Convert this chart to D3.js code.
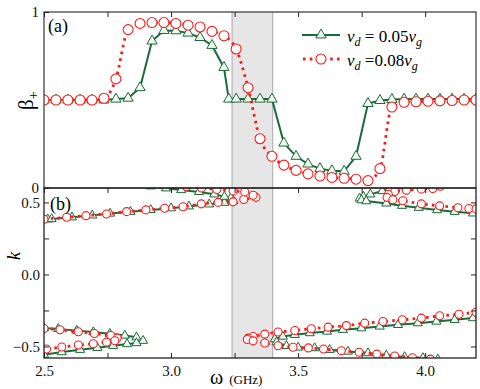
<!DOCTYPE html>
<html>
<head>
<meta charset="utf-8">
<script src="https://cdn.jsdelivr.net/npm/d3@7"></script>
<style>
body { margin: 0; background: #fff; }
</style>
</head>
<body>
<div id="chart"></div>
<script>
// top panel: beta_+ vs omega
var omegaRed = [2.500, 2.547, 2.594, 2.642, 2.689, 2.736, 2.783, 2.831, 2.878, 2.925, 2.972, 3.019, 3.067,
    3.114, 3.161, 3.208, 3.256, 3.303, 3.350, 3.397, 3.444, 3.492, 3.539, 3.586, 3.633, 3.681, 3.728,
    3.775, 3.822, 3.869, 3.917, 3.964, 4.011, 4.058, 4.106, 4.153, 4.200];
var betaRed = [0.50, 0.50, 0.50, 0.50, 0.50, 0.51, 0.62, 0.90, 0.935, 0.94, 0.94, 0.935, 0.925,
    0.915, 0.89, 0.865, 0.79, 0.57, 0.28, 0.18, 0.13, 0.10, 0.08, 0.068, 0.06, 0.055, 0.05,
    0.042, 0.11, 0.46, 0.487, 0.49, 0.493, 0.495, 0.497, 0.50, 0.50];

var omegaGreen = [2.500, 2.547, 2.594, 2.642, 2.689, 2.736, 2.783, 2.831, 2.878, 2.925, 2.972, 3.019, 3.067,
    3.114, 3.161, 3.208, 3.227, 3.256, 3.303, 3.350, 3.397, 3.444, 3.492, 3.539, 3.586, 3.633, 3.681,
    3.728, 3.775, 3.822, 3.869, 3.917, 3.964, 4.011, 4.058, 4.106, 4.153, 4.200];
var betaGreen = [0.50, 0.50, 0.50, 0.50, 0.50, 0.50, 0.505, 0.51, 0.57, 0.835, 0.895, 0.893, 0.88,
    0.855, 0.81, 0.685, 0.505, 0.505, 0.505, 0.505, 0.505, 0.255, 0.18, 0.136, 0.11, 0.098, 0.095,
    0.18, 0.48, 0.497, 0.503, 0.505, 0.505, 0.505, 0.505, 0.505, 0.505, 0.505];

// bottom panel: k vs omega, one array of [omega, k] per branch
var greenUpperLeft = [[2.515, 0.382], [2.53, 0.385], [2.61, 0.397], [2.69, 0.410], [2.76, 0.423], [2.84, 0.435],
    [2.92, 0.448], [3.00, 0.460], [3.07, 0.473], [3.15, 0.487], [3.21, 0.498], [3.245, 0.510],
    [3.235, 0.530], [3.21, 0.540], [3.17, 0.556], [3.11, 0.573], [3.04, 0.586], [2.98, 0.598], [2.92, 0.612]];
var redUpperLeft = [[2.50, 0.383], [2.589, 0.397], [2.665, 0.408], [2.746, 0.420], [2.825, 0.436], [2.901, 0.448],
    [2.975, 0.459], [3.047, 0.470], [3.119, 0.490], [3.185, 0.500], [3.244, 0.504], [3.286, 0.520],
    [3.334, 0.535], [3.323, 0.550], [3.29, 0.573], [3.244, 0.580], [3.18, 0.590], [3.12, 0.600], [3.06, 0.610]];
var greenUpperRight = [[3.90, 0.612], [3.86, 0.597], [3.831, 0.579], [3.784, 0.556], [3.757, 0.540], [3.742, 0.528],
    [3.749, 0.516], [3.768, 0.509], [3.847, 0.493], [3.909, 0.477], [3.975, 0.463], [4.047, 0.447],
    [4.116, 0.435], [4.188, 0.424]];
var redUpperRight = [[4.06, 0.612], [4.03, 0.597], [3.985, 0.592], [3.926, 0.585], [3.88, 0.575], [3.855, 0.555],
    [3.85, 0.535], [3.873, 0.518], [3.912, 0.511], [3.985, 0.490], [4.057, 0.476], [4.129, 0.463],
    [4.172, 0.458], [4.20, 0.455]];
var greenLowerLeft = [[2.50, -0.372], [2.556, -0.378], [2.629, -0.390], [2.694, -0.400], [2.759, -0.412],
    [2.818, -0.424], [2.864, -0.436], [2.89, -0.460], [2.864, -0.476], [2.827, -0.483], [2.772, -0.495],
    [2.71, -0.509], [2.642, -0.523], [2.57, -0.539], [2.50, -0.557]];
var redLowerLeft = [[2.50, -0.375], [2.563, -0.384], [2.635, -0.398], [2.698, -0.410], [2.763, -0.424],
    [2.788, -0.442], [2.779, -0.460], [2.746, -0.470], [2.694, -0.481], [2.635, -0.490], [2.57, -0.504],
    [2.51, -0.518]];
var greenLowerRight = [[4.188, -0.303], [4.116, -0.315], [4.044, -0.327], [3.971, -0.338], [3.893, -0.350],
    [3.821, -0.361], [3.749, -0.373], [3.676, -0.384], [3.614, -0.396], [3.546, -0.407], [3.487, -0.419],
    [3.44, -0.431], [3.408, -0.449], [3.415, -0.470], [3.454, -0.496], [3.50, -0.507], [3.565, -0.511],
    [3.624, -0.523], [3.696, -0.535], [3.775, -0.546], [3.847, -0.562], [3.919, -0.573], [3.991, -0.580],
    [4.05, -0.590]];
var redLowerRight = [[4.20, -0.262], [4.133, -0.276], [4.057, -0.287], [3.985, -0.303], [3.91, -0.315],
    [3.834, -0.327], [3.762, -0.338], [3.69, -0.355], [3.618, -0.366], [3.552, -0.377], [3.487, -0.389],
    [3.421, -0.400], [3.369, -0.414], [3.323, -0.431], [3.303, -0.442], [3.30, -0.452], [3.323, -0.461],
    [3.369, -0.476], [3.421, -0.495], [3.48, -0.505], [3.54, -0.510], [3.60, -0.518], [3.67, -0.530],
    [3.74, -0.540], [3.81, -0.553], [3.88, -0.566], [3.95, -0.578], [4.02, -0.588]];

var gapBand = [3.24, 3.40];
var xTicks = [2.5, 3.0, 3.5, 4.0];
var legendLabels = ["0.05", "0.08"];

var w = 480, h = 389;
var green = "#1b6b3a", red = "#ff1a1a";
var serif = "Liberation Serif";

var svg = d3.select("#chart").append("svg").attr("width", w).attr("height", h)
    .attr("font-family", serif);

var x = d3.scaleLinear().domain([2.5, 4.2]).range([44, 476]);
var yTop = d3.scaleLinear().domain([0, 1]).range([188, 12]);
var yBot = d3.scaleLinear().domain([-0.58, 0.6]).range([358, 188]);

var defs = svg.append("defs");
defs.append("clipPath").attr("id", "clipTop").append("rect")
    .attr("x", 44).attr("y", 12).attr("width", 432).attr("height", 176);
defs.append("clipPath").attr("id", "clipBot").append("rect")
    .attr("x", 44).attr("y", 188).attr("width", 432).attr("height", 170);

// shaded band across both panels
svg.append("rect")
    .attr("x", x(gapBand[0])).attr("y", 12)
    .attr("width", x(gapBand[1]) - x(gapBand[0])).attr("height", 346)
    .style("fill", "#e6e6e6");
gapBand.forEach(function(v) {
    svg.append("line").attr("x1", x(v)).attr("x2", x(v)).attr("y1", 12).attr("y2", 358)
        .style("stroke", "#a8a8a8").style("stroke-width", 1);
});

var tri = d3.symbol().type(d3.symbolTriangle);

function drawGreen(g, pts, yS, size) {
    g.append("path").datum(pts)
        .attr("d", d3.line().x(function(d) { return x(d[0]); }).y(function(d) { return yS(d[1]); }))
        .style("fill", "none").style("stroke", green).style("stroke-width", 2);
    g.selectAll(null).data(pts).enter().append("path")
        .attr("d", tri.size(size))
        .attr("transform", function(d) { return "translate(" + x(d[0]) + "," + yS(d[1]) + ")"; })
        .style("fill", "#f2f8f2").style("stroke", green).style("stroke-width", 1);
}

function drawRed(g, pts, yS, r, curve) {
    g.append("path").datum(pts)
        .attr("d", d3.line().curve(curve).x(function(d) { return x(d[0]); }).y(function(d) { return yS(d[1]); }))
        .style("fill", "none").style("stroke", red).style("stroke-width", 2.8)
        .style("stroke-dasharray", "2.6,4.2");
    g.selectAll(null).data(pts).enter().append("circle")
        .attr("cx", function(d) { return x(d[0]); })
        .attr("cy", function(d) { return yS(d[1]); })
        .attr("r", r)
        .style("fill", "#fff").style("stroke", red).style("stroke-width", 1.1);
}

// top panel
var topG = svg.append("g").attr("clip-path", "url(#clipTop)");
drawGreen(topG, omegaGreen.map(function(o, i) { return [o, betaGreen[i]]; }), yTop, 46);
drawRed(topG, omegaRed.map(function(o, i) { return [o, betaRed[i]]; }), yTop, 5, d3.curveMonotoneX);

// bottom panel
var botG = svg.append("g").attr("clip-path", "url(#clipBot)");
[greenUpperLeft, greenUpperRight, greenLowerLeft, greenLowerRight].forEach(function(b) {
    drawGreen(botG, b, yBot, 36);
});
[redUpperLeft, redUpperRight, redLowerLeft, redLowerRight].forEach(function(b) {
    drawRed(botG, b, yBot, 4, d3.curveLinear);
});

// frames
svg.append("rect").attr("x", 44).attr("y", 12).attr("width", 432).attr("height", 176)
    .style("fill", "none").style("stroke", "#222").style("stroke-width", 1.1);
svg.append("rect").attr("x", 44).attr("y", 188).attr("width", 432).attr("height", 170)
    .style("fill", "none").style("stroke", "#222").style("stroke-width", 1.3);

var quarter = d3.range(2.5, 4.21, 0.25);

// axes
svg.append("g").attr("transform", "translate(0,12)")
    .call(d3.axisTop(x).tickValues(quarter).tickSizeInner(-5).tickSizeOuter(0).tickFormat(""));
svg.append("g").attr("transform", "translate(0,188)")
    .call(d3.axisTop(x).tickValues(quarter).tickSizeInner(-5).tickSizeOuter(0).tickFormat(""));
svg.append("g").attr("transform", "translate(0,358)")
    .call(d3.axisBottom(x).tickValues(quarter).tickSizeInner(-5).tickSizeOuter(0).tickPadding(7)
        .tickFormat(function(d) { return xTicks.some(function(t) { return Math.abs(t - d) < 1e-6; }) ? d3.format(".1f")(d) : ""; }));
svg.append("g").attr("transform", "translate(44,0)")
    .call(d3.axisLeft(yTop).tickValues([0, 1]).tickSizeInner(-5).tickSizeOuter(0).tickPadding(5).tickFormat(d3.format("d")));
svg.append("g").attr("transform", "translate(44,0)")
    .call(d3.axisLeft(yBot).tickValues([-0.5, -0.25, 0, 0.25, 0.5]).tickSizeInner(-5).tickSizeOuter(0).tickPadding(4)
        .tickFormat(function(d) { return Math.abs(d) === 0.25 ? "" : d3.format(".1f")(d); }));
svg.append("g").attr("transform", "translate(476,0)")
    .call(d3.axisRight(yBot).tickValues([-0.5, -0.25, 0, 0.25, 0.5]).tickSizeInner(-5).tickSizeOuter(0).tickFormat(""));

svg.selectAll(".domain").remove();
svg.selectAll("g[font-family]").attr("font-family", serif);
svg.selectAll(".tick line").style("stroke", "#222");
svg.selectAll(".tick text").attr("font-family", serif).attr("font-size", 15).style("fill", "#111");

// panel labels
svg.append("text").attr("x", 48).attr("y", 32).attr("font-family", serif).attr("font-size", 18).text("(a)");
svg.append("text").attr("x", 50).attr("y", 210).attr("font-family", serif).attr("font-size", 18).text("(b)");

// axis titles
var bl = svg.append("text").attr("transform", "translate(33,110) rotate(-90)")
    .attr("font-family", serif).attr("font-size", 21);
bl.append("tspan").text("β");
bl.append("tspan").attr("dy", 5).attr("font-size", 14).text("+");
svg.append("text").attr("transform", "translate(20,256) rotate(-90)").attr("text-anchor", "middle")
    .attr("font-family", serif).attr("font-size", 18).attr("font-style", "italic").text("k");
var xl = svg.append("text").attr("x", 210).attr("y", 384).attr("font-family", serif);
xl.append("tspan").attr("font-size", 20).text("ω");
xl.append("tspan").attr("dx", 6).attr("font-size", 13).text("(GHz)");

// legend
legendLabels.forEach(function(l, i) {
    var ly = 35 + i * 24;
    var lg = svg.append("g");
    if (i === 0) {
        lg.append("line").attr("x1", 302).attr("x2", 340).attr("y1", ly).attr("y2", ly)
            .style("stroke", green).style("stroke-width", 2);
        lg.append("path").attr("d", tri.size(46)).attr("transform", "translate(321," + ly + ")")
            .style("fill", "#f2f8f2").style("stroke", green).style("stroke-width", 1);
    } else {
        lg.append("line").attr("x1", 303).attr("x2", 340).attr("y1", ly).attr("y2", ly)
            .style("stroke", red).style("stroke-width", 2.8).style("stroke-dasharray", "2.6,4.2");
        lg.append("circle").attr("cx", 321).attr("cy", ly).attr("r", 5)
            .style("fill", "#fff").style("stroke", red).style("stroke-width", 1.1);
    }
    var t = svg.append("text").attr("x", 347).attr("y", ly + 7).attr("font-family", serif).attr("font-size", 17);
    t.append("tspan").attr("font-style", "italic").text("v");
    t.append("tspan").attr("dy", 4).attr("font-size", 12).attr("font-style", "italic").text("d");
    t.append("tspan").attr("dy", -4).text(i === 0 ? " = " + l : " =" + l);
    t.append("tspan").attr("font-style", "italic").text("v");
    t.append("tspan").attr("dy", 4).attr("font-size", 12).attr("font-style", "italic").text("g");
});
</script>
</body>
</html>
